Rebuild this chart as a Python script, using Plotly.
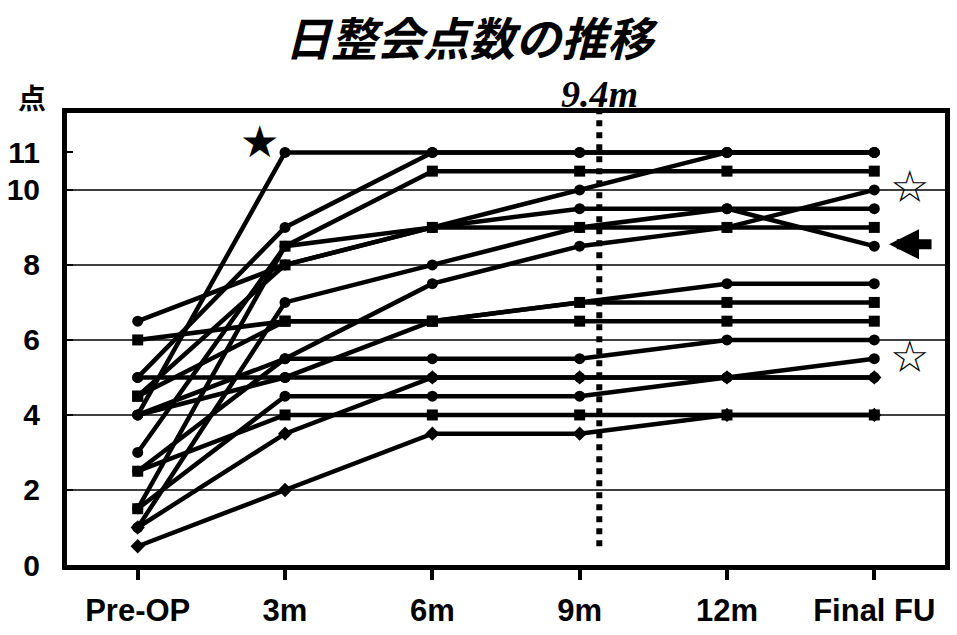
import plotly.graph_objects as go

# Follow-up time points
periods = ["Pre-OP", "3m", "6m", "9m", "12m", "Final FU"]

# JOA score per patient at each time point
patient_scores = [
    [4, 11, 11, 11, 11, 11],
    [5, 9, 11, 11, 11, 11],
    [1.5, 8.5, 10.5, 10.5, 10.5, 10.5],
    [3, 8.5, 9, 10, 11, 11],
    [6.5, 8, 9, 9.5, 9.5, 9.5],
    [1, 7, 8, 9, 9.5, 8.5],
    [2.5, 5.5, 7.5, 8.5, 9, 10],
    [4.5, 8, 9, 9, 9, 9],
    [6, 6.5, 6.5, 6.5, 6.5, 6.5],
    [5, 5, 6.5, 7, 7.5, 7.5],
    [4.5, 6.5, 6.5, 7, 7, 7],
    [4, 5.5, 5.5, 5.5, 6, 6],
    [4, 5, 5, 5, 5, 5],
    [1.5, 4.5, 4.5, 4.5, 5, 5.5],
    [1, 3.5, 5, 5, 5, 5],
    [2.5, 4, 4, 4, 4, 4],
    [0.5, 2, 3.5, 3.5, 4, 4],
]
marker_symbols = [
    "circle", "circle", "square", "circle", "circle", "circle", "circle",
    "square", "square", "circle", "square", "circle", "circle", "circle",
    "diamond", "square", "diamond",
]

y_ticks = [0, 2, 4, 6, 8, 10, 11]
grid_levels = [2, 4, 6, 8, 10]
mean_followup_label = "9.4m"
mean_followup_pos = 3 + 0.4 / 3  # 9.4 months between the 9m and 12m columns

fig = go.Figure()
for scores, sym in zip(patient_scores, marker_symbols):
    fig.add_trace(go.Scatter(
        x=periods, y=scores, mode="lines+markers",
        line=dict(color="black", width=4.5),
        marker=dict(symbol=sym, size=11, color="black"),
        showlegend=False, hoverinfo="skip",
    ))

shapes = []
for g in grid_levels:
    shapes.append(dict(type="line", xref="paper", x0=0, x1=1, yref="y", y0=g, y1=g,
                       line=dict(color="black", width=1.5), layer="below"))
shapes.append(dict(type="line", xref="x", x0=mean_followup_pos, x1=mean_followup_pos,
                   yref="y", y0=0.5, y1=12.05,
                   line=dict(color="black", width=6, dash="dot")))

tick_font = "Liberation Sans"
annotations = [
    dict(text="<b>点</b>", xref="paper", yref="paper", x=-0.04, y=1.035,
         xanchor="center", yanchor="middle", showarrow=False,
         font=dict(family="Noto Sans CJK JP", size=28, color="black")),
    dict(text="<b><i>" + mean_followup_label + "</i></b>", xref="x", yref="paper",
         x=mean_followup_pos, y=1.0, xanchor="center", yanchor="bottom", yshift=-4,
         showarrow=False, font=dict(family="Liberation Serif", size=38, color="black")),
    dict(text="★", xref="x", yref="y", x=0.83, y=11.3, showarrow=False,
         font=dict(family="DejaVu Sans", size=44, color="black")),
    dict(text="☆", xref="x", yref="y", x=5.24, y=10.1, showarrow=False,
         font=dict(family="DejaVu Sans", size=44, color="black")),
    dict(text="☆", xref="x", yref="y", x=5.24, y=5.55, showarrow=False,
         font=dict(family="DejaVu Sans", size=44, color="black")),
    dict(text="", xref="x", yref="y", x=5.10, y=8.55, ax=44, ay=0,
         showarrow=True, arrowhead=2, arrowsize=0.6, arrowwidth=10, arrowcolor="black"),
]

fig.update_layout(
    width=957, height=635,
    margin=dict(l=63, r=7, t=113, b=68),
    paper_bgcolor="white", plot_bgcolor="white",
    title=dict(text="<b><i>日整会点数の推移</i></b>", x=0.49, xanchor="center",
               y=0.937, yanchor="middle",
               font=dict(family="Noto Sans CJK JP", size=46, color="black")),
    shapes=shapes, annotations=annotations,
)
fig.update_xaxes(
    type="category", range=[-0.48, 5.48], showgrid=False,
    showline=True, linecolor="black", linewidth=5, mirror=True,
    ticks="outside", ticklen=10, tickwidth=4, tickcolor="black",
    ticklabelstandoff=4,
    tickfont=dict(family=tick_font, size=31, color="black", weight="bold"),
)
fig.update_yaxes(
    range=[0, 12.05], tickvals=y_ticks, showgrid=False, zeroline=False,
    showline=True, linecolor="black", linewidth=5, mirror=True,
    ticks="inside", ticklen=6, tickwidth=2, tickcolor="black",
    ticklabelstandoff=16,
    tickfont=dict(family=tick_font, size=30, color="black", weight="bold"),
)

fig.write_html("out.html")
